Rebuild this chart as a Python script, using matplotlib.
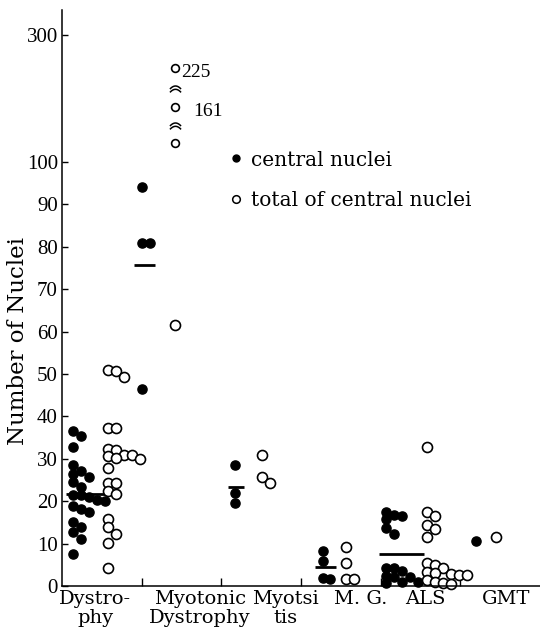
import matplotlib
matplotlib.use("Agg")
import matplotlib.pyplot as plt
import numpy as np
from matplotlib.lines import Line2D
from matplotlib.path import Path

# ---- data ----
categories = ["Dystro-\nphy", "Myotonic\nDystrophy", "Myotsi\ntis", "M. G.", "ALS", "GMT"]

dys_central = [36.5, 35.4, 32.8, 28.5, 27.1, 26.4, 25.8, 24.5, 23.3, 21.5, 21.5,
               21.0, 20.2, 20.0, 18.9, 18.2, 17.5, 15.1, 14.0, 12.7, 11.1, 7.5]
dys_total = [50.9, 50.7, 49.4, 37.2, 37.2, 32.3, 32.1, 31.0, 31.0, 30.6, 30.2,
             29.9, 27.8, 24.3, 24.3, 22.5, 21.7, 15.8, 13.9, 12.3, 10.1, 4.2]
myo_central = [94, 81, 81, 46.5]
myo_total = [225, 161, 118, 61.5]
myt_central = [28.5, 22, 19.5]
myt_total = [31, 25.7, 24.3]
mg_central = [8.2, 5.9, 1.9, 1.6]
mg_total = [9.2, 5.4, 1.6, 1.6]
als_central = [17.5, 16.7, 16.5, 15.8, 13.7, 12.3, 4.2, 4.2, 3.5, 2.4, 2.1, 2.1, 1.0, 1.0, 0.7]
als_total = [32.8, 17.5, 16.5, 14.4, 13.4, 11.6, 5.4, 5.0, 4.2, 3.3, 3.0, 2.8, 2.6, 2.6,
             1.4, 1.0, 0.7, 0.5]
gmt_central = [10.6]
gmt_total = [11.6]

central = [dys_central, myo_central, myt_central, mg_central, als_central, gmt_central]
total = [dys_total, myo_total, myt_total, mg_total, als_total, gmt_total]

labelled_values = [225, 161]
y_ticks = [0, 10, 20, 30, 40, 50, 60, 70, 80, 90, 100, 300]

# ---- layout ----
central_x = [0.14, 1.0, 2.17, 3.27, 4.07, 5.2]
total_x = [0.58, 1.42, 2.51, 3.56, 4.58, 5.45]
label_x = [0.42, 1.73, 2.80, 3.75, 4.56, 5.57]
LANE = 0.1
GAP = 1.65
K = 27.26  # compression of the axis above 100


def fwd(y):
    y = np.asarray(y, dtype=float)
    return np.where(y <= 100, y, 100 + K * np.log(np.maximum(y, 100) / 100))


def inv(t):
    t = np.asarray(t, dtype=float)
    return np.where(t <= 100, t, 100 * np.exp((np.maximum(t, 100) - 100) / K))


def lanes(values, base):
    """Place points in columns so that markers do not sit on top of each other."""
    vals = sorted(values, reverse=True)
    cols = []
    xs = []
    for v in vals:
        tv = float(fwd(v))
        i = 0
        while i < len(cols) and any(abs(tv - u) < GAP for u in cols[i]):
            i += 1
        if i == len(cols):
            cols.append([])
        cols[i].append(tv)
        xs.append(base + i * LANE)
    return np.array(xs), np.array(vals)


def break_marker():
    t = np.linspace(-1, 1, 15)
    arc = np.column_stack([t, -0.55 * t ** 2])
    verts = np.vstack([arc + [0, 0.45], arc - [0, 0.15]])
    codes = ([Path.MOVETO] + [Path.LINETO] * 14) * 2
    return Path(verts, codes)


serif = "DejaVu Serif"
digits = "Liberation Serif"

fig = plt.figure(figsize=(5.4, 6.42), dpi=100)
ax = fig.add_axes([62 / 540, 56 / 642, 478 / 540, 576 / 642])
ax.set_yscale("function", functions=(fwd, inv))

for ci in range(len(categories)):
    xs, vs = lanes(central[ci], central_x[ci])
    ax.plot(xs, vs, "o", color="black", ms=6.6, mec="black", ls="none", clip_on=False)
    if len(vs) > 1:
        m = np.mean(vs)
        ax.plot([central_x[ci] - 0.09, max(central_x[ci] + 0.12, xs.max() + 0.07)], [m, m],
                color="black", lw=2, solid_capstyle="butt")

    xs, vs = lanes(total[ci], total_x[ci])
    off = vs > 100
    ax.plot(xs[~off], vs[~off], "o", mfc="white", mec="black", mew=1.2, ms=7.2,
            ls="none", clip_on=False)
    if off.any():
        x0 = xs[off][0]
        ax.plot(xs[off], vs[off], "o", mfc="white", mec="black", mew=1.2, ms=5.6, ls="none")
        hi = np.sort(vs[off])
        for j, v in enumerate(sorted(labelled_values, reverse=True)):
            dx = 4 if j == 0 else 13
            ax.annotate(f"{v:.0f}", (x0, v), xytext=(dx, -3), textcoords="offset points",
                        fontsize=14, family=digits, va="center", ha="left")
        for a, b in zip(hi[:-1], hi[1:]):
            mid = inv((fwd(a) + fwd(b)) / 2)
            ax.plot([x0], [mid], marker=break_marker(), ms=8, mfc="none",
                    mec="black", mew=1.1, ls="none")

# axes styling
ax.set_xlim(0, 6)
ax.set_ylim(0, float(inv((586 - 10) / 4.24)))
for s in ("top", "right"):
    ax.spines[s].set_visible(False)
ax.spines["left"].set_linewidth(1.1)
ax.spines["bottom"].set_linewidth(1.1)

ax.set_yticks(y_ticks)
ax.set_yticklabels([str(t) for t in y_ticks], family=digits, fontsize=15)
ax.tick_params(axis="y", direction="in", length=4, width=1, pad=3)
ax.yaxis.set_minor_locator(matplotlib.ticker.NullLocator())

ax.set_xticks(label_x)
ax.set_xticklabels(categories, family=serif, fontsize=14, linespacing=1.05)
ax.tick_params(axis="x", which="major", length=0, pad=3)
ax.set_xticks(np.arange(1, len(categories)), minor=True)
ax.tick_params(axis="x", which="minor", direction="in", length=6, width=1)

ax.set_ylabel("Number of Nuclei", family=serif, fontsize=16.5)
ax.yaxis.set_label_coords(-0.068, 0.425)

handles = [
    Line2D([], [], marker="o", color="black", ms=5, ls="none"),
    Line2D([], [], marker="o", mfc="white", mec="black", mew=1.1, ms=5.5, ls="none"),
]
ax.legend(handles, ["central nuclei", "total of central nuclei"], loc="upper left",
          bbox_to_anchor=(0.352, 0.756), frameon=False, prop={"family": serif, "size": 14.5},
          handlelength=0.6, handletextpad=0.45, labelspacing=1.05, borderpad=0,
          borderaxespad=0)

fig.savefig("out.png", dpi=100, facecolor="white")
